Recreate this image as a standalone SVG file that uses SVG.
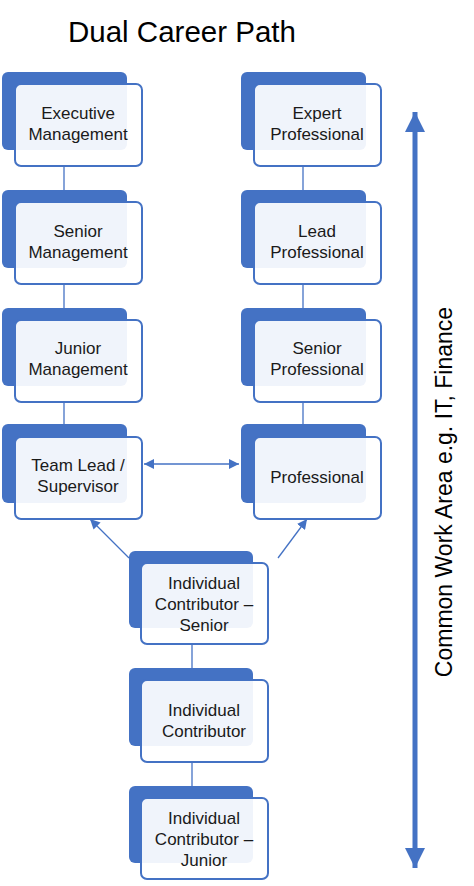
<svg xmlns="http://www.w3.org/2000/svg" width="474" height="886" viewBox="0 0 474 886">
<style>
.back{fill:#4472c4;}
.front{fill:#ffffff;fill-opacity:0.92;stroke:#4472c4;stroke-width:2;}
.t{font-family:"Liberation Sans",Arial,sans-serif;font-size:17px;fill:#1a1a1a;text-anchor:middle;}
.c{stroke:#4472c4;stroke-width:1.3;fill:none;}
.title{font-family:"Liberation Sans",Arial,sans-serif;font-size:29.5px;fill:#000;}
.side{font-family:"Liberation Sans",Arial,sans-serif;font-size:23px;fill:#000;text-anchor:middle;}
</style>
<defs>
<marker id="ah" viewBox="0 0 10 10" refX="10" refY="5" markerWidth="10" markerHeight="10" markerUnits="userSpaceOnUse" orient="auto-start-reverse"><path d="M0,0 L10,5 L0,10 z" fill="#4472c4"/></marker>
<marker id="big" viewBox="0 0 10 10" refX="10" refY="5" markerWidth="4" markerHeight="4" orient="auto-start-reverse"><path d="M0,0 L10,5 L0,10 z" fill="#4472c4"/></marker>
</defs>
<text class="title" x="68" y="42">Dual Career Path</text>
<g id="connectors">
<line class="c" x1="64" y1="166" x2="64" y2="190"/>
<line class="c" x1="64" y1="284" x2="64" y2="308"/>
<line class="c" x1="64" y1="402" x2="64" y2="424"/>
<line class="c" x1="303" y1="166" x2="303" y2="190"/>
<line class="c" x1="303" y1="284" x2="303" y2="308"/>
<line class="c" x1="303" y1="402" x2="303" y2="424"/>
<line class="c" x1="192" y1="644" x2="192" y2="668"/>
<line class="c" x1="192" y1="762" x2="192" y2="786"/>
<line class="c" x1="144" y1="464" x2="239" y2="464" marker-start="url(#ah)" marker-end="url(#ah)"/>
<line class="c" x1="129" y1="558" x2="90" y2="519" marker-end="url(#ah)"/>
<line class="c" x1="278" y1="558" x2="307" y2="519" marker-end="url(#ah)"/>
<line x1="415" y1="112" x2="415" y2="868" stroke="#4472c4" stroke-width="5" marker-start="url(#big)" marker-end="url(#big)"/>
</g>
<g id="exec"><rect class="back" x="2" y="72" width="125" height="78" rx="6"/><rect class="front" x="15" y="84" width="127" height="82" rx="6"/><text class="t" x="78" y="119">Executive</text><text class="t" x="78" y="140">Management</text></g>
<g id="seniormgmt"><rect class="back" x="2" y="190" width="125" height="78" rx="6"/><rect class="front" x="15" y="202" width="127" height="82" rx="6"/><text class="t" x="78" y="237">Senior</text><text class="t" x="78" y="258">Management</text></g>
<g id="juniormgmt"><rect class="back" x="2" y="308" width="125" height="78" rx="6"/><rect class="front" x="15" y="320" width="127" height="82" rx="6"/><text class="t" x="78" y="354">Junior</text><text class="t" x="78" y="375">Management</text></g>
<g id="teamlead"><rect class="back" x="2" y="424" width="125" height="79" rx="6"/><rect class="front" x="15" y="437" width="127" height="82" rx="6"/><text class="t" x="78" y="471">Team Lead /</text><text class="t" x="78" y="492">Supervisor</text></g>
<g id="expert"><rect class="back" x="241" y="72" width="125" height="78" rx="6"/><rect class="front" x="254" y="84" width="127" height="82" rx="6"/><text class="t" x="317" y="119">Expert</text><text class="t" x="317" y="140">Professional</text></g>
<g id="lead"><rect class="back" x="241" y="190" width="125" height="78" rx="6"/><rect class="front" x="254" y="202" width="127" height="82" rx="6"/><text class="t" x="317" y="237">Lead</text><text class="t" x="317" y="258">Professional</text></g>
<g id="seniorprof"><rect class="back" x="241" y="308" width="125" height="78" rx="6"/><rect class="front" x="254" y="320" width="127" height="82" rx="6"/><text class="t" x="317" y="354">Senior</text><text class="t" x="317" y="375">Professional</text></g>
<g id="prof"><rect class="back" x="241" y="424" width="125" height="79" rx="6"/><rect class="front" x="254" y="437" width="127" height="82" rx="6"/><text class="t" x="317" y="483">Professional</text></g>
<g id="icsenior"><rect class="back" x="129" y="551" width="124" height="77" rx="6"/><rect class="front" x="141" y="563" width="127" height="81" rx="6"/><text class="t" x="204" y="589">Individual</text><text class="t" x="204" y="610">Contributor –</text><text class="t" x="204" y="631">Senior</text></g>
<g id="ic"><rect class="back" x="129" y="668" width="124" height="78" rx="6"/><rect class="front" x="141" y="680" width="127" height="82" rx="6"/><text class="t" x="204" y="716">Individual</text><text class="t" x="204" y="737">Contributor</text></g>
<g id="icjunior"><rect class="back" x="129" y="786" width="124" height="77" rx="6"/><rect class="front" x="141" y="798" width="127" height="81" rx="6"/><text class="t" x="204" y="824">Individual</text><text class="t" x="204" y="845">Contributor –</text><text class="t" x="204" y="866">Junior</text></g>
<text class="side" transform="translate(452,492) rotate(-90)">Common Work Area e.g. IT, Finance</text>
</svg>
